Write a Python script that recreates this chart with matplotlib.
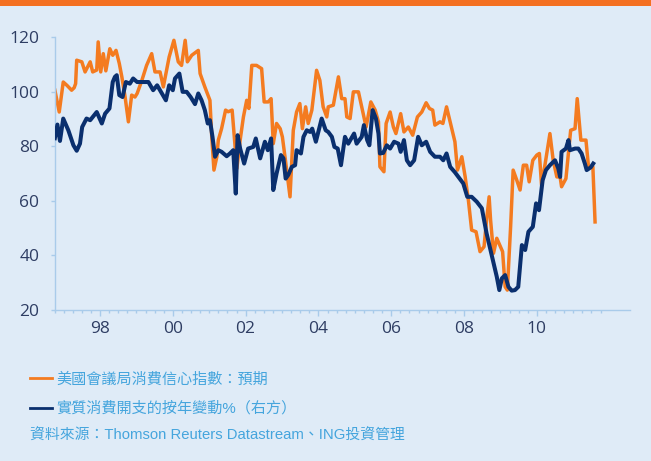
import matplotlib
matplotlib.use("Agg")
import matplotlib.pyplot as plt
from matplotlib.patches import Rectangle

# ---- data (decimal years) ----
conf_year = [1996.76, 1996.88, 1996.99, 1997.09, 1997.22, 1997.29, 1997.33, 1997.36, 1997.50, 1997.59,
             1997.73, 1997.80, 1997.91, 1997.95, 1998.02, 1998.09, 1998.16, 1998.27, 1998.35, 1998.44,
             1998.53, 1998.60, 1998.69, 1998.78, 1998.87, 1998.96, 1999.02, 1999.15, 1999.28, 1999.42,
             1999.51, 1999.65, 1999.74, 1999.81, 1999.90, 2000.03, 2000.15, 2000.24, 2000.34, 2000.40,
             2000.52, 2000.70, 2000.75, 2000.88, 2001.02, 2001.07, 2001.13, 2001.21, 2001.25, 2001.34,
             2001.45, 2001.52, 2001.63, 2001.69, 2001.76, 2001.85, 2001.94, 2002.03, 2002.09, 2002.17,
             2002.30, 2002.44, 2002.51, 2002.62, 2002.70, 2002.76, 2002.85, 2002.95, 2003.01, 2003.10,
             2003.22, 2003.31, 2003.40, 2003.49, 2003.56, 2003.65, 2003.72, 2003.82, 2003.95, 2004.04,
             2004.13, 2004.23, 2004.27, 2004.41, 2004.55, 2004.64, 2004.73, 2004.78, 2004.87, 2004.96,
             2005.10, 2005.19, 2005.31, 2005.44, 2005.56, 2005.65, 2005.69, 2005.80, 2005.86, 2005.97,
             2006.06, 2006.13, 2006.26, 2006.35, 2006.47, 2006.59, 2006.72, 2006.84, 2006.96, 2007.05,
             2007.14, 2007.20, 2007.34, 2007.42, 2007.52, 2007.62, 2007.75, 2007.82, 2007.94, 2008.03,
             2008.12, 2008.21, 2008.33, 2008.44, 2008.55, 2008.62, 2008.69, 2008.73, 2008.81, 2008.90,
             2009.06, 2009.13, 2009.19, 2009.28, 2009.35, 2009.45, 2009.54, 2009.63, 2009.72, 2009.79,
             2009.89, 2010.00, 2010.07, 2010.13, 2010.23, 2010.36, 2010.45, 2010.55, 2010.64, 2010.68,
             2010.80, 2010.93, 2011.05, 2011.11, 2011.21, 2011.35, 2011.42, 2011.54, 2011.60]
conf_val = [100.6, 92.6, 103.6, 102.4, 100.6, 101.5, 103.0, 111.6, 111.0, 107.3,
            111.0, 107.3, 108.0, 118.3, 107.3, 114.0, 107.7, 115.8, 113.4, 115.2,
            110.4, 105.5, 98.1, 89.0, 98.8, 98.1, 99.4, 104.2, 109.7, 114.0,
            107.3, 107.3, 101.8, 106.7, 112.8, 118.9, 111.0, 109.7, 118.9, 111.0,
            113.4, 115.2, 106.7, 101.8, 96.9, 83.5, 71.3, 76.2, 82.3, 86.5,
            93.3, 92.7, 93.3, 83.5, 71.9, 82.3, 90.8, 96.9, 93.9, 109.7,
            109.7, 108.5, 96.3, 96.3, 97.5, 81.0, 88.4, 86.5, 83.5, 74.3,
            61.5, 85.9, 92.6, 95.7, 86.5, 94.5, 88.4, 93.3, 107.9, 104.2,
            94.5, 90.8, 94.5, 95.1, 105.5, 97.5, 97.5, 90.8, 90.2, 100.0,
            100.0, 94.5, 87.1, 96.3, 93.3, 89.0, 72.5, 70.7, 88.4, 92.6,
            87.1, 84.7, 92.0, 85.3, 87.1, 84.1, 90.8, 92.6, 96.0, 93.9,
            93.3, 87.8, 89.0, 88.4, 94.5, 89.0, 81.7, 71.3, 76.2, 69.0,
            60.3, 49.3, 48.7, 41.4, 43.2, 53.0, 61.5, 53.0, 40.8, 46.3,
            41.4, 28.5, 27.3, 50.5, 71.3, 67.6, 64.0, 73.1, 73.1, 67.0,
            74.9, 76.8, 77.4, 65.8, 73.7, 84.7, 74.9, 68.8, 68.8, 65.2,
            68.2, 85.9, 86.5, 97.5, 82.3, 82.3, 72.5, 72.5, 52.3]

spend_year = [1996.76, 1996.83, 1996.90, 1996.99, 1997.13, 1997.27, 1997.36, 1997.45, 1997.51, 1997.63,
              1997.73, 1997.91, 1998.05, 1998.14, 1998.26, 1998.35, 1998.41, 1998.46, 1998.53, 1998.62,
              1998.71, 1998.82, 1998.91, 1999.02, 1999.19, 1999.33, 1999.46, 1999.57, 1999.70, 1999.81,
              1999.90, 2000.00, 2000.06, 2000.18, 2000.27, 2000.38, 2000.49, 2000.61, 2000.70, 2000.79,
              2000.88, 2000.96, 2001.02, 2001.09, 2001.16, 2001.25, 2001.34, 2001.48, 2001.57, 2001.66,
              2001.73, 2001.78, 2001.85, 2001.96, 2002.07, 2002.21, 2002.28, 2002.40, 2002.53, 2002.61,
              2002.70, 2002.76, 2002.85, 2002.97, 2003.04, 2003.10, 2003.17, 2003.27, 2003.36, 2003.40,
              2003.52, 2003.59, 2003.68, 2003.77, 2003.83, 2003.93, 2004.09, 2004.20, 2004.27, 2004.37,
              2004.44, 2004.53, 2004.62, 2004.73, 2004.82, 2004.98, 2005.05, 2005.19, 2005.25, 2005.34,
              2005.40, 2005.49, 2005.58, 2005.65, 2005.69, 2005.78, 2005.88, 2005.97, 2006.08, 2006.20,
              2006.26, 2006.35, 2006.43, 2006.52, 2006.63, 2006.74, 2006.84, 2006.96, 2007.07, 2007.20,
              2007.34, 2007.43, 2007.52, 2007.62, 2007.75, 2007.89, 2007.98, 2008.09, 2008.21, 2008.35,
              2008.49, 2008.62, 2008.76, 2008.90, 2008.97, 2009.04, 2009.13, 2009.22, 2009.31, 2009.40,
              2009.49, 2009.59, 2009.68, 2009.77, 2009.89, 2009.98, 2010.06, 2010.16, 2010.25, 2010.36,
              2010.50, 2010.59, 2010.64, 2010.68, 2010.80, 2010.87, 2010.91, 2011.05, 2011.14, 2011.23,
              2011.32, 2011.37, 2011.48, 2011.55]
spend_val = [83.0, 88.0, 82.0, 90.2, 85.9, 80.4, 78.4, 81.0, 87.1, 90.2,
             89.6, 92.6, 88.4, 92.0, 93.9, 103.6, 105.5, 106.1, 98.8, 98.1,
             103.6, 103.0, 104.9, 103.6, 103.6, 103.6, 100.6, 102.4, 99.4, 96.9,
             102.4, 100.6, 104.9, 106.7, 100.0, 100.0, 98.1, 95.5, 99.4, 96.9,
             93.3, 88.4, 89.6, 83.5, 76.2, 78.6, 78.0, 76.4, 77.4, 78.6,
             62.7, 84.1, 79.2, 73.7, 79.2, 79.8, 82.9, 75.6, 81.7, 78.6,
             82.9, 64.0, 70.0, 76.8, 75.6, 68.2, 69.5, 72.5, 73.1, 78.6,
             77.4, 83.5, 85.9, 85.3, 86.5, 81.7, 90.2, 85.9, 85.3, 83.5,
             79.8, 79.2, 73.1, 83.5, 81.0, 84.7, 81.0, 83.5, 87.8, 82.3,
             80.4, 93.3, 90.2, 84.7, 77.4, 77.6, 80.4, 79.2, 81.7, 81.0,
             78.0, 82.3, 74.9, 73.1, 74.9, 83.5, 80.4, 81.7, 78.0, 76.2,
             76.2, 74.9, 77.4, 72.5, 70.5, 68.0, 66.4, 61.5, 61.5, 59.7,
             57.3, 48.1, 40.1, 32.2, 27.3, 31.6, 32.8, 28.5, 27.1, 27.3,
             28.5, 43.8, 42.0, 48.7, 50.5, 59.1, 56.6, 67.6, 71.3, 73.1,
             74.9, 71.9, 68.8, 78.0, 79.2, 82.3, 78.6, 79.2, 79.2, 77.4,
             73.7, 71.3, 72.3, 73.7]

major_years = [1998, 2000, 2002, 2004, 2006, 2008, 2010]
major_labels = ["98", "00", "02", "04", "06", "08", "10"]
y_ticks = [20, 40, 60, 80, 100, 120]

label_conf = "美國會議局消費信心指數：預期"
label_spend = "實質消費開支的按年變動%（右方）"
source_text = "資料來源：Thomson Reuters Datastream、ING投資管理"

# ---- style ----
BG = "#DFEBF7"
ORANGE = "#F47B20"
NAVY = "#0A2F6E"
AXIS = "#A9CBEA"
TICKTXT = "#2E3D63"
LEGTXT = "#45A5DD"
TXTFAM = ["Liberation Sans", "Noto Sans CJK TC", "DejaVu Sans"]

fig = plt.figure(figsize=(6.51, 4.61), dpi=100, facecolor=BG)
fig.patches.append(Rectangle((0, 1 - 6 / 461), 1, 6 / 461, transform=fig.transFigure,
                             facecolor="#F47021", edgecolor="none", zorder=5))

ax = fig.add_axes([54.5 / 651, 1 - 310 / 461, 575.5 / 651, 272.7 / 461])
ax.set_facecolor(BG)

l1, = ax.plot(conf_year, conf_val, color=ORANGE, lw=2.5, solid_joinstyle="round", zorder=2)
l2, = ax.plot(spend_year, spend_val, color=NAVY, lw=2.9, solid_joinstyle="round", zorder=3)

ax.set_xlim(1996.75, 2012.56)
ax.set_ylim(20, 120)

for s in ["top", "right"]:
    ax.spines[s].set_visible(False)
for s in ["left", "bottom"]:
    ax.spines[s].set_color(AXIS)
    ax.spines[s].set_linewidth(1.0)

ax.set_xticks(major_years)
ax.set_xticklabels(major_labels)
minor = [1996.75 + 0.25 * i for i in range(61) if (1996.75 + 0.25 * i) not in major_years]
ax.set_xticks(minor, minor=True)
ax.set_yticks(y_ticks)

ax.tick_params(axis="x", which="major", direction="out", length=4, width=1, color=AXIS,
               pad=4, labelsize=12.5, labelcolor=TICKTXT)
ax.tick_params(axis="x", which="minor", direction="out", length=2.5, width=1, color=AXIS)
ax.tick_params(axis="y", which="major", direction="out", length=3, width=1, color=AXIS,
               pad=8, labelsize=12.5, labelcolor=TICKTXT)
for lab in ax.get_xticklabels() + ax.get_yticklabels():
    lab.set_family(["Open Sans", "DejaVu Sans"])

leg = fig.legend([l1, l2], [label_conf, label_spend], loc="upper left",
                 bbox_to_anchor=(30 / 651, 1 - 372 / 461), frameon=False,
                 prop={"family": TXTFAM, "size": 10.9}, handlelength=1.45, handletextpad=0.3,
                 labelspacing=1.0, borderpad=0, borderaxespad=0)
for t in leg.get_texts():
    t.set_color(LEGTXT)
for h in leg.legend_handles:
    h.set_linewidth(2.0)

fig.text(30 / 651, 1 - 436 / 461, source_text, family=TXTFAM, size=10.7, color=LEGTXT,
         ha="left", va="center")

fig.savefig("out.png", dpi=100, facecolor=BG)
